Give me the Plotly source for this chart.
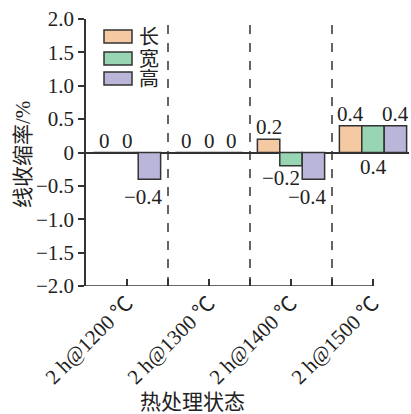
import plotly.graph_objects as go

categories = ["2 h@1200 ℃", "2 h@1300 ℃", "2 h@1400 ℃", "2 h@1500 ℃"]
series_names = ["长", "宽", "高"]
length_vals = [0, 0, 0.2, 0.4]
width_vals = [0, 0, -0.2, 0.4]
height_vals = [-0.4, 0, -0.4, 0.4]
y_tick_vals = [2.0, 1.5, 1.0, 0.5, 0, -0.5, -1.0, -1.5, -2.0]
y_tick_text = ["2.0", "1.5", "1.0", "0.5", "0", "−0.5", "−1.0", "−1.5", "−2.0"]

colors = ["#F5C9A2", "#98D5B2", "#BAB6DA"]
edge = "#333333"
FONT = "Liberation Serif, Times New Roman, Noto Sans CJK SC, serif"
W, H = 411, 414
L, R, T, B = 86, 2, 19, 128
PW, PH = W - L - R, H - T - B

xs = list(range(len(categories)))
bargap = 0.18
bw = (1 - bargap) / 3
all_vals = [length_vals, width_vals, height_vals]

fig = go.Figure()
for i, (name, vals) in enumerate(zip(series_names, all_vals)):
    fig.add_trace(go.Bar(
        x=xs, y=vals, name=name, width=bw, offset=(i - 1.5) * bw,
        marker=dict(color=colors[i], line=dict(color=edge, width=1.5)),
        showlegend=False, hoverinfo="skip",
    ))

def fmt(v):
    s = f"{v:g}"
    return s.replace("-", "−")

annotations = []
for i, vals in enumerate(all_vals):
    for ci, v in enumerate(vals):
        xc = ci + (i - 1) * bw
        below = v < 0
        ypos = v
        xshift = -6 if v < 0 else 0
        yshift = -7 if below else 2
        # the middle bar of the last group has its label printed under the baseline
        if ci == 3 and i == 1:
            below = True
            ypos = 0
            yshift = -3
        # neighbouring negative labels in the 1400 group are staggered
        if ci == 2 and i == 1:
            xshift = -10
            yshift = -1
        annotations.append(dict(
            x=xc, y=ypos, xref="x", yref="y", text=fmt(v), showarrow=False,
            xanchor="center", yanchor="top" if below else "bottom",
            yshift=yshift, xshift=xshift, height=17,
            font=dict(family=FONT, size=21, color="#222"),
        ))

def px(x):
    return (x - L) / PW

def py(y):
    return (H - B - y) / PH

shapes = []
# legend swatches
for k, yc in enumerate([36.5, 58.5, 78.5]):
    shapes.append(dict(type="rect", xref="paper", yref="paper",
                       x0=px(104), x1=px(132), y0=py(yc - 6.5), y1=py(yc + 6.5),
                       fillcolor=colors[k], line=dict(color=edge, width=1.5)))
    annotations.append(dict(x=px(137), y=py(yc), xref="paper", yref="paper",
                            text=series_names[k], showarrow=False, xanchor="left",
                            yanchor="middle", height=20,
                            font=dict(family=FONT, size=20, color="#222")))

# dashed separators
for xv in [0.5, 1.5, 2.5]:
    shapes.append(dict(type="line", xref="x", yref="y", x0=xv, x1=xv, y0=-2, y1=2,
                       line=dict(color=edge, width=1.5, dash="dash")))
# x axis line (ends at last category)
shapes.append(dict(type="line", xref="x", yref="y", x0=-0.5, x1=3, y0=-2, y1=-2,
                   line=dict(color=edge, width=1.5)))

annotations.append(dict(x=px(23), y=py(155), xref="paper", yref="paper",
                        text="线收缩率/%", textangle=-90, showarrow=False,
                        xanchor="center", yanchor="middle",
                        font=dict(family=FONT, size=21, color="#222")))
annotations.append(dict(x=px(192), y=py(402), xref="paper", yref="paper",
                        text="热处理状态", showarrow=False,
                        xanchor="center", yanchor="middle", height=22,
                        font=dict(family=FONT, size=21, color="#222")))

tickvals_x = [0, 0.5, 1, 1.5, 2, 2.5, 3]
ticktext_x = [categories[0], "", categories[1], "", categories[2], "", categories[3]]

fig.update_layout(
    width=W, height=H,
    margin=dict(l=L, r=R, t=T, b=B),
    plot_bgcolor="white", paper_bgcolor="white",
    barmode="overlay",
    hovermode=False,
    font=dict(family=FONT, size=21, color="#222"),
    xaxis=dict(range=[-0.5, -0.5 + PW / 82.0], tickmode="array",
               tickvals=tickvals_x, ticktext=ticktext_x, tickangle=-45,
               ticks="inside", ticklen=7, tickwidth=1.5, tickcolor=edge,
               showline=False, showgrid=False, zeroline=False, fixedrange=True,
               tickfont=dict(family=FONT, size=21, color="#222")),
    yaxis=dict(range=[-2, 2], tickmode="array", tickvals=y_tick_vals,
               ticktext=y_tick_text, ticks="outside", ticklen=6, tickwidth=1.5,
               tickcolor=edge, showline=True, linecolor=edge, linewidth=1.5,
               showgrid=False, zeroline=True, zerolinecolor=edge, zerolinewidth=1.5,
               fixedrange=True,
               tickfont=dict(family=FONT, size=21, color="#222")),
    shapes=shapes,
    annotations=annotations,
)

fig.write_html("out.html", config={"displayModeBar": False},
               post_script="document.body.style.margin='0';document.body.style.padding='0';")
